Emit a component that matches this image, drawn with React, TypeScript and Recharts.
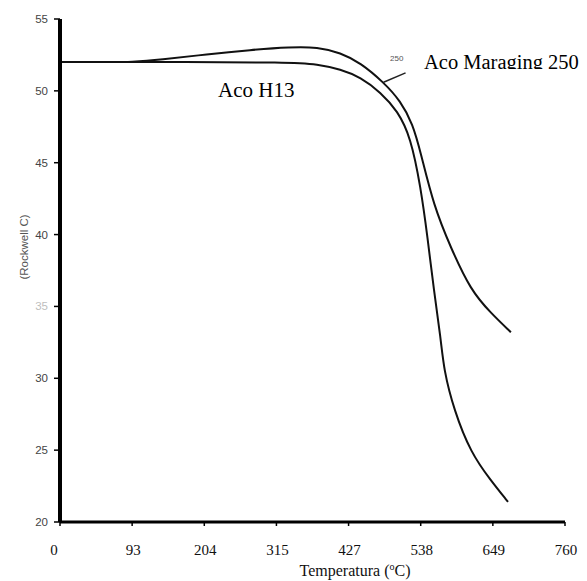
import { LineChart, Line, XAxis, YAxis, ReferenceLine } from 'recharts'

// temperature in °F (0..1400, 200 per grid step), hardness in HRC
const maragingTemp = [0, 150, 194, 278, 408, 528, 639, 714, 778, 833, 897, 944, 978, 1000, 1036, 1083, 1139, 1194, 1250]
const maragingHrc = [52.0, 52.0, 52.0, 52.15, 52.55, 52.85, 53.05, 53.05, 52.65, 51.95, 50.6, 49.3, 47.7, 45.7, 42.0, 39.1, 36.1, 34.55, 33.2]

const h13Temp = [0, 300, 639, 714, 778, 833, 889, 936, 972, 1000, 1019, 1036, 1056, 1064, 1092, 1139, 1194, 1242]
const h13Hrc = [52.0, 52.0, 52.0, 51.85, 51.5, 50.95, 49.9, 48.6, 46.8, 43.3, 39.8, 36.2, 32.7, 30.6, 27.8, 24.8, 22.9, 21.4]

const xTicks = [0, 200, 400, 600, 800, 1000, 1200, 1400]
const xTickLabels = ['0', '93', '204', '315', '427', '538', '649', '760']
const yTicks = [20, 25, 30, 35, 40, 45, 50, 55]

const maraging = maragingTemp.map((t, i) => ({ t, hrc: maragingHrc[i] }))
const h13 = h13Temp.map((t, i) => ({ t, hrc: h13Hrc[i] }))

const SERIF = '"Liberation Serif", "Times New Roman", serif'
const SANS = '"Liberation Sans", Arial, sans-serif'

function XTick({ x = 0, y = 0, payload }: any) {
  const i = xTicks.indexOf(payload.value)
  return (
    <text x={i === 0 ? x - 6 : x + 1} y={y} dy={11} textAnchor="middle" fontFamily={SERIF} fontSize={15} fill="#111">
      {xTickLabels[i]}
    </text>
  )
}

function YTick({ x = 0, y = 0, payload }: any) {
  return (
    <text x={x} y={y} dy={4} textAnchor="end" fontFamily={SANS} fontSize={11.5} fill="#444"
      opacity={payload.value === 35 ? 0.35 : 1}>
      {payload.value}
    </text>
  )
}

export default function App() {
  return (
    <div style={{ position: 'absolute', left: 0, top: 0, background: '#fff' }}>
      <LineChart width={587} height={581} margin={{ top: 19, right: 22, bottom: 0, left: 0 }}>
        <defs>
          <clipPath id="tagClip">
            <rect x={370} y={30} width={220} height={39} />
          </clipPath>
          <clipPath id="smallClip">
            <rect x={380} y={40} width={24} height={40} />
          </clipPath>
        </defs>
        <XAxis
          type="number"
          dataKey="t"
          domain={[0, 1400]}
          ticks={xTicks}
          height={59}
          tickSize={4}
          tickMargin={18}
          tick={<XTick />}
          axisLine={{ stroke: '#000', strokeWidth: 3 }}
          tickLine={{ stroke: '#000', strokeWidth: 1.5 }}
        />
        <YAxis
          type="number"
          domain={[20, 55]}
          ticks={yTicks}
          width={60}
          tickSize={6}
          tickMargin={6}
          tick={<YTick />}
          axisLine={{ stroke: '#000', strokeWidth: 4 }}
          tickLine={{ stroke: '#000', strokeWidth: 1.5 }}
        />
        <Line data={maraging} dataKey="hrc" type="basis" stroke="#111" strokeWidth={2}
          dot={false} isAnimationActive={false} />
        <Line data={h13} dataKey="hrc" type="basis" stroke="#111" strokeWidth={2}
          dot={false} isAnimationActive={false} />
        <ReferenceLine segment={[{ x: 897, y: 50.6 }, { x: 958, y: 51.25 }]} stroke="#222" strokeWidth={1.5} />
        <text x={218} y={97} fontFamily={SERIF} fontSize={21} fill="#000">Aco H13</text>
        <g clipPath="url(#tagClip)">
          <text x={424} y={69} fontFamily={SERIF} fontSize={20.5} fill="#000">Aco Maraging 250</text>
        </g>
        <g clipPath="url(#smallClip)">
          <text x={390} y={61} fontFamily={SANS} fontSize={8} fill="#555">250</text>
        </g>
        <text transform="translate(28,247) rotate(-90)" textAnchor="middle" fontFamily={SANS} fontSize={11.5} fill="#555">
          (Rockwell C)
        </text>
        <text x={355} y={576} textAnchor="middle" fontFamily={SERIF} fontSize={16} fill="#111">
          Temperatura  (<tspan fontSize={10} dy={-6}>o</tspan><tspan dy={6}>C)</tspan>
        </text>
      </LineChart>
    </div>
  )
}
